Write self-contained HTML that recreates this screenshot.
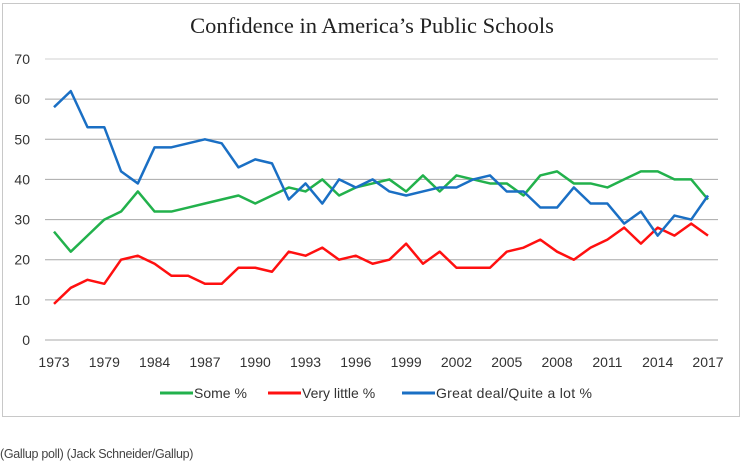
<!DOCTYPE html>
<html><head><meta charset="utf-8">
<style>
body{margin:0;background:#fff;width:744px;height:467px;overflow:hidden;font-family:"Liberation Sans",sans-serif;}
#frame{position:absolute;left:2px;top:3px;width:738px;height:414px;border:1px solid #c8c8c8;box-sizing:border-box;}
#credit{position:absolute;left:0;top:447px;font-size:12.5px;color:#444;letter-spacing:-0.3px;}
</style></head><body>
<div id="frame"></div>
<svg id="chart" width="744" height="467" style="position:absolute;left:0;top:0">
<text x="372" y="33" text-anchor="middle" font-family="Liberation Serif,serif" font-size="22.5" fill="#222">Confidence in America’s Public Schools</text>
<g id="grid"></g><g id="lines"></g><g id="xlabels"></g>
<g font-size="14" fill="#333">
<line x1="160" y1="393" x2="193" y2="393" stroke="#22b14c" stroke-width="3"/>
<text x="194" y="398">Some %</text>
<line x1="268" y1="393" x2="301" y2="393" stroke="#ff1010" stroke-width="3"/>
<text x="302" y="398">Very little %</text>
<line x1="402" y1="393" x2="435" y2="393" stroke="#1a6fc4" stroke-width="3"/>
<text x="436" y="398" textLength="156">Great deal/Quite a lot %</text>
</g>
</svg>
<div id="credit">(Gallup poll) (Jack Schneider/Gallup)</div>
<script>
const categories=["1973","1974","1975","1979","1980","1981","1984","1985","1986","1987","1988","1989","1990","1991","1992","1993","1994","1995","1996","1997","1998","1999","2000","2001","2002","2003","2004","2005","2006","2007","2008","2009","2010","2011","2012","2013","2014","2015","2016","2017"];
const tickYears=["1973","1979","1984","1987","1990","1993","1996","1999","2002","2005","2008","2011","2014","2017"];
const yTicks=[0,10,20,30,40,50,60,70];
const someVals=[27,22,26,30,32,37,32,32,33,34,35,36,34,36,38,37,40,36,38,39,40,37,41,37,41,40,39,39,36,41,42,39,39,38,40,42,42,40,40,35];
const littleVals=[9,13,15,14,20,21,19,16,16,14,14,18,18,17,22,21,23,20,21,19,20,24,19,22,18,18,18,22,23,25,22,20,23,25,28,24,28,26,29,26];
const greatVals=[58,62,53,53,42,39,48,48,49,50,49,43,45,44,35,39,34,40,38,40,37,36,37,38,38,40,41,37,37,33,33,38,34,34,29,32,26,31,30,36];
const ns="http://www.w3.org/2000/svg";
const x0=54,x1=708,y0=340,y70=59;
const xs=i=>x0+(x1-x0)*i/(categories.length-1);
const ys=v=>y0-(y0-y70)*v/70;
const grid=document.getElementById('grid');
yTicks.forEach(t=>{
  const l=document.createElementNS(ns,'line');
  
  
  l.setAttribute('x1',45);l.setAttribute('x2',718);l.setAttribute('y1',ys(t));l.setAttribute('y2',ys(t));
  l.setAttribute('stroke',t===70?'#d0d0d0':'#a8a8a8');l.setAttribute('stroke-width',1);
  grid.appendChild(l);
  const tx=document.createElementNS(ns,'text');
  
  
  tx.setAttribute('x',30);tx.setAttribute('y',ys(t)+5);tx.setAttribute('text-anchor','end');
  tx.setAttribute('font-size','14');tx.setAttribute('fill','#333');tx.textContent=t;
  grid.appendChild(tx);
});
const xl=document.getElementById('xlabels');
tickYears.forEach(y=>{
  const i=categories.indexOf(y);
  const tx=document.createElementNS(ns,'text');
  
  
  tx.setAttribute('x',xs(i));tx.setAttribute('y',367);tx.setAttribute('text-anchor','middle');
  tx.setAttribute('font-size','14');tx.setAttribute('fill','#333');tx.textContent=y;
  xl.appendChild(tx);
});
const lines=document.getElementById('lines');
function draw(vals,color,name){
  const p=document.createElementNS(ns,'polyline');
  
  
  p.setAttribute('points',vals.map((v,i)=>xs(i)+','+ys(v)).join(' '));
  p.setAttribute('fill','none');p.setAttribute('stroke',color);p.setAttribute('stroke-width',2.5);
  p.setAttribute('stroke-linejoin','round');
  lines.appendChild(p);
}
draw(someVals,'#22b14c','some-line');
draw(littleVals,'#ff1010','very-little-line');
draw(greatVals,'#1a6fc4','great-deal-line');
</script>
</body></html>
